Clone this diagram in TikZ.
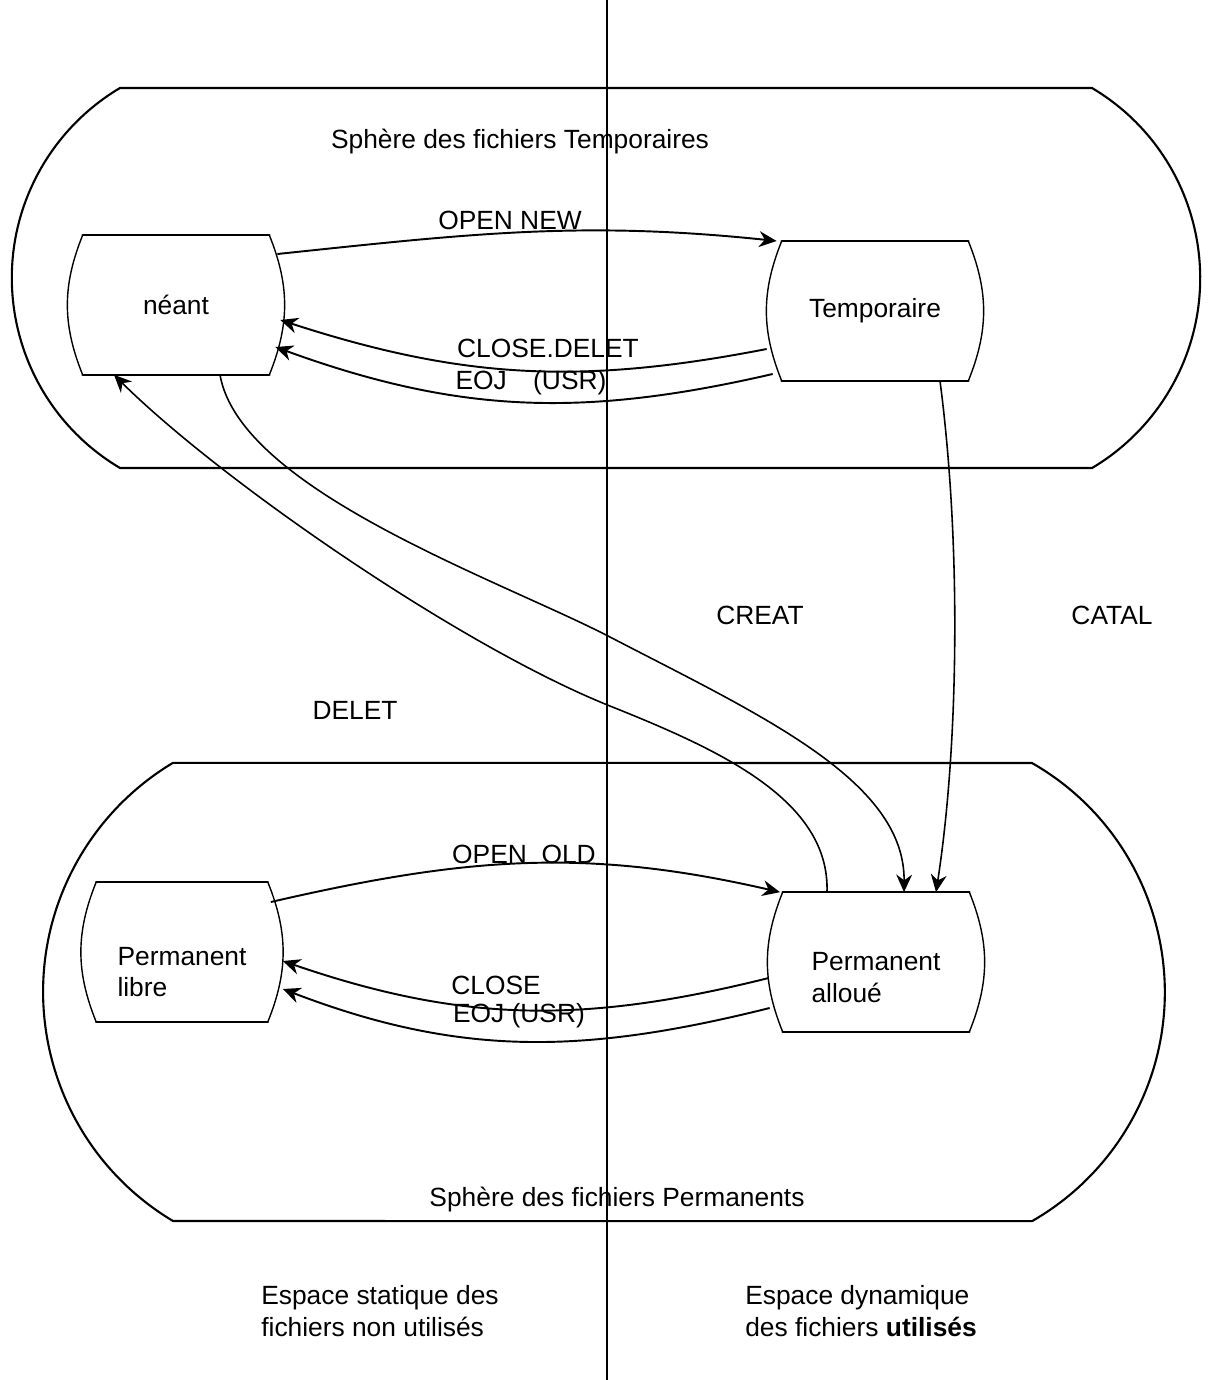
\documentclass[tikz,border=0pt]{standalone}
\usepackage{fontspec}
\setmainfont{Liberation Sans}
\usepackage{tikz}
\usetikzlibrary{arrows.meta}

\newcommand{\corps}{\fontsize{15}{18}\selectfont}
% outline of a state: straight top and bottom, bulging sides
\newcommand{\tonneau}[1]{%
  \draw[bord] (#1.north west) -- (#1.north east);
  \draw[bord] (#1.south west) -- (#1.south east);
  \draw[cote] (#1.north east) to[out=-68,in=68] (#1.south east);
  \draw[cote] (#1.south west) to[out=112,in=-112] (#1.north west);}

\begin{document}
\begin{tikzpicture}[
    x=0.02cm, y=0.02cm,
    etat/.style={
      minimum width=#1,
      minimum height=2.78cm,
      inner sep=0pt,
      align=left,
      font=\corps
    },
    etat/.default=3.72cm,
    bord/.style={line width=1.5pt, line cap=round},
    cote/.style={line width=0.8pt},
    sphere/.style={line width=1.2pt},
    separ/.style={line width=0.6pt},
    fleche/.style={
      -{Stealth[length=10pt,width=9pt]},
      line width=1.1pt
    },
    longue/.style={
      -{Stealth[length=10pt,width=9pt]},
      line width=0.9pt
    },
    etiq/.style={font=\corps, inner sep=1pt}
  ]
  \useasboundingbox (0,0) rectangle (1209,-1380);

  % Static / dynamic separation
  \draw[separ] (607,0) -- (607,-1380);

  % Spheres
  \draw[sphere] (120,-468) arc[start angle=239.3, end angle=120.7, radius=221]
    -- (1092,-88) arc[start angle=59.3, end angle=-59.3, radius=221] -- cycle;
  \draw[sphere] (173,-1221) arc[start angle=239.1, end angle=120.9, radius=267]
    -- (1032,-763) arc[start angle=60.2, end angle=-60.2, radius=264] -- cycle;

  \node[etiq] (titreT) at (520,-142) {Sphère des fichiers Temporaires};
  \node[etiq] (titreP) at (617,-1200) {Sphère des fichiers Permanents};

  % States (text of the permanent ones sits low in the box)
  \node[etat]        (neant)  at (176,-305) {néant};
  \node[etat]        (temp)   at (875,-311) {Temporaire};
  \node[etat=3.42cm] (libre)  at (182,-952) {\mbox{}\\[15pt]Permanent\\libre};
  \node[etat]        (alloue) at (876,-962) {\mbox{}\\[10pt]Permanent\\alloué};
  \tonneau{neant}
  \tonneau{temp}
  \tonneau{libre}
  \tonneau{alloue}

  % Temporary sphere transitions
  \draw[fleche] ([shift={(8,51)}]neant.east) to[out=6,in=174]
    ([shift={(-5,70)}]temp.west);
  \draw[fleche] ([shift={(-15,-38)}]temp.west) to[out=191,in=-18]
    ([shift={(11,-15)}]neant.east);
  \draw[fleche] ([shift={(-9,-63)}]temp.west) to[out=193,in=-20]
    ([shift={(6,-42)}]neant.east);
  \node[etiq] (opennew) at (510,-220) {OPEN NEW};
  \node[etiq] (closedel) at (548,-348) {CLOSE.DELET};
  \node[etiq] (eojT) at (531,-383) {EOJ\quad(USR)};

  % Permanent sphere transitions
  \draw[fleche] ([shift={(3,50)}]libre.east) to[out=13,in=167]
    ([shift={(-96,0)}]alloue.north);
  \draw[fleche] ([shift={(-14,-16)}]alloue.west) to[out=194,in=-19]
    ([shift={(15,-9)}]libre.east);
  \draw[fleche] ([shift={(-13,-46)}]alloue.west) to[out=194,in=-21]
    ([shift={(15,-37)}]libre.east);
  \node[etiq] (openold) at (524,-854) {OPEN~~OLD};
  \node[etiq] (close) at (496,-985) {CLOSE};
  \node[etiq] (eojP) at (519,-1016) {EOJ (USR)};

  % Between the spheres
  \draw[longue] ([shift={(44,0)}]neant.south)
    .. controls (240,-490) and (500,-580) .. (610,-637)
    .. controls (760,-715) and (905,-780) .. ([shift={(28,0)}]alloue.north);
  \draw[longue] ([shift={(-49,0)}]alloue.north)
    .. controls (830,-800) and (720,-750) .. (610,-706)
    .. controls (460,-646) and (220,-480) .. ([shift={(-62,0)}]neant.south);
  \draw[longue] ([shift={(65,0)}]temp.south)
    .. controls (962,-550) and (958,-750) .. ([shift={(60,0)}]alloue.north);
  \node[etiq] (creat) at (760,-615) {CREAT};
  \node[etiq] (catal) at (1112,-615) {CATAL};
  \node[etiq] (delet) at (355,-710) {DELET};

  % Spaces
  \node[etiq,align=left] (statique) at (380,-1311)
    {Espace statique des\\fichiers non utilisés};
  \node[etiq,align=left] (dynamique) at (861,-1311)
    {Espace dynamique\\des fichiers \textbf{utilisés}};

\end{tikzpicture}
\end{document}
